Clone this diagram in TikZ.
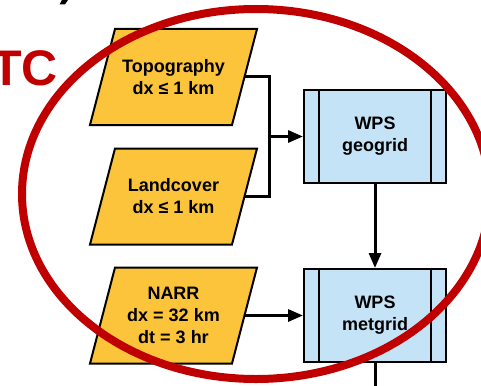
\documentclass[tikz,border=0pt]{standalone}
\usepackage{fontspec}
\setmainfont{Liberation Sans}
\usetikzlibrary{arrows.meta}
\definecolor{datayellow}{RGB}{251,196,58}
\definecolor{procblue}{RGB}{197,227,246}
\definecolor{markred}{RGB}{192,0,0}

% parallelogram outline around a data node centred at (#1,#2)
\newcommand\dataoutline[2]{%
  \draw[fill=datayellow, line width=2pt, line join=miter]
    ({#1-58.5},{#2-48}) -- ({#1+83.5},{#2-48}) --
    ({#1+58.5},{#2+48}) -- ({#1-83.5},{#2+48}) -- cycle;}

\begin{document}
\begin{tikzpicture}[x=1pt,y=-1pt,
  lbl/.style={font=\bfseries\fontsize{18}{22}\selectfont, align=center, text=black},
  datablock/.style={lbl, minimum width=142pt, minimum height=96pt, inner sep=0pt},
  procbox/.style={lbl, draw=black, line width=2pt, fill=procblue,
    minimum width=142pt, minimum height=93pt, inner sep=0pt,
    path picture={
      \draw[line width=2pt]
        ([xshift=15pt]path picture bounding box.north west) --
        ([xshift=15pt]path picture bounding box.south west)
        ([xshift=-15pt]path picture bounding box.north east) --
        ([xshift=-15pt]path picture bounding box.south east);}},
  link/.style={line width=3pt},
  flow/.style={link, -{Triangle[length=15pt,width=12pt]}},
  ring/.style={draw=markred, line width=8pt},
]
\useasboundingbox (0,0) rectangle (481,385);
\clip (0,0) rectangle (481,385);

% data sources
\dataoutline{173.5}{77}
\dataoutline{173.5}{196.5}
\dataoutline{173.5}{315.5}
\node[datablock] (topo) at (173.5,77) {Topography\\dx ≤ 1 km};
\node[datablock] (land) at (173.5,196.5) {Landcover\\dx ≤ 1 km};
\node[datablock] (narr) at (173.5,315.5) {NARR\\dx = 32 km\\dt = 3 hr};

% WPS programs
\node[procbox] (geo) at (375,136.5) {WPS\\geogrid};
\node[procbox] (met) at (375,315.5) {WPS\\metgrid};

% connectors
\coordinate (join) at (269,136.5);
\coordinate (down) at (375,392);
\draw[link] (topo.east) -| (join);
\draw[link] (land.east) -| (join);
\draw[flow] (join) -- (geo.west);
\draw[flow] (geo.south) -- (met.north);
\draw[flow] (narr.east) -- (met.west);
\draw[link] (met.south) -- (down);

% heading fragments
\node[anchor=base west, inner sep=0pt, text=markred,
  font=\bfseries\fontsize{50}{60}\selectfont] (tc) at (-9,85) {TC};
\fill (59.5,4.5) -- (62,0) -- (68,0) -- (65,4.5) -- cycle;

% highlight ring
\draw[ring] (256,194) ellipse [x radius=234, y radius=185];
\end{tikzpicture}
\end{document}
